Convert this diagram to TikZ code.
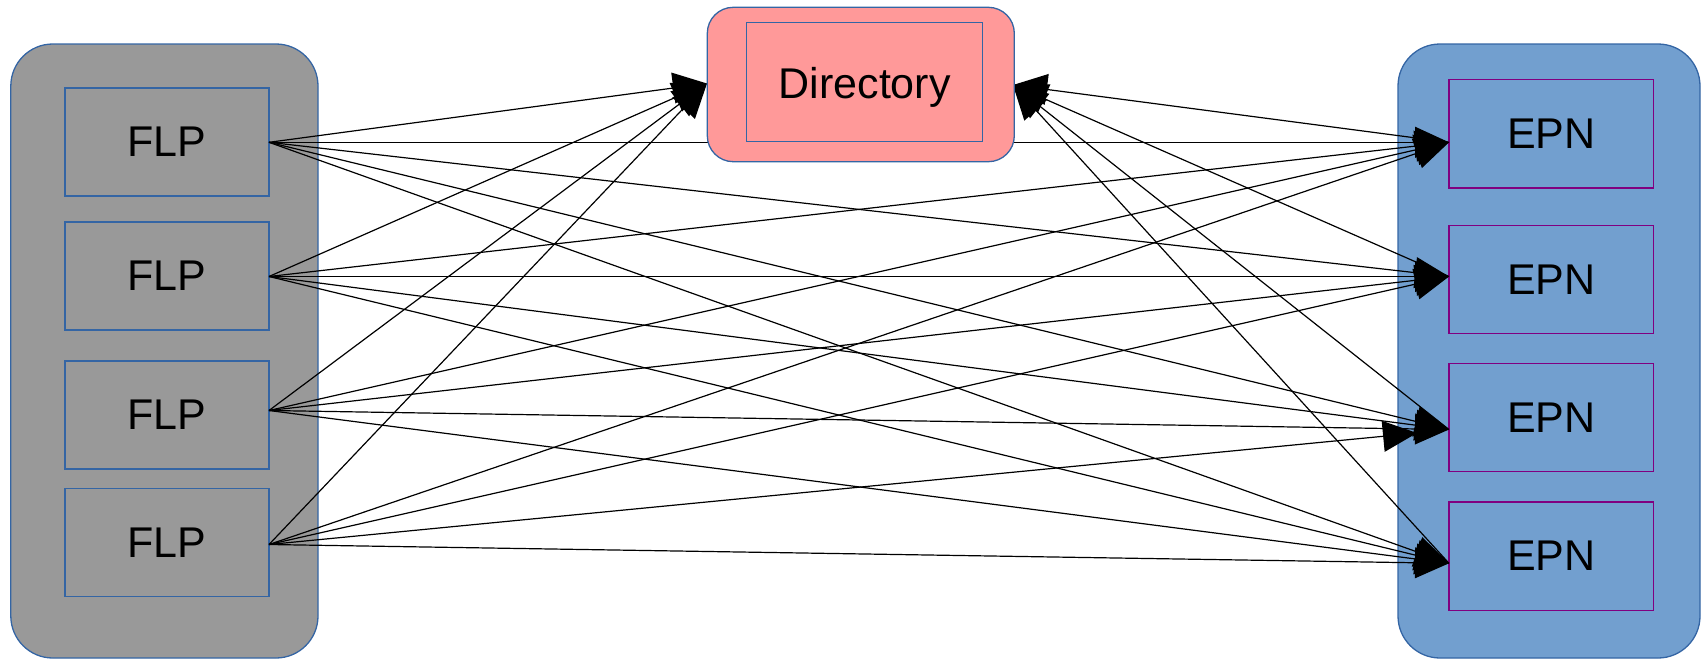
\documentclass[tikz,border=0pt]{standalone}
\usepackage{fontspec}
\setmainfont{Liberation Sans}
\usetikzlibrary{arrows.meta}
\definecolor{cgray}{HTML}{999999}
\definecolor{cpink}{HTML}{FF9999}
\definecolor{cblue}{HTML}{729FCF}
\definecolor{cborder}{HTML}{3465A4}
\definecolor{cpurple}{HTML}{800080}
\begin{document}
\begin{tikzpicture}[x=1pt,y=-1pt,
  container/.style={draw=cborder, line width=1.3pt, rounded corners=42pt, inner sep=0pt},
  flpbox/.style={draw=cborder, line width=1.3pt, minimum width=204pt, minimum height=108pt, inner sep=0pt, font=\fontsize{43}{50}\selectfont},
  epnbox/.style={draw=cpurple, line width=1.3pt, minimum width=204.7pt, minimum height=108.3pt, inner sep=0pt, font=\fontsize{43}{50}\selectfont},
  link/.style={draw=black, line width=1.2pt, -{Triangle[length=34pt,width=31pt]}}
]
\useasboundingbox (0,0) rectangle (1701,659);

% containers
\node[container, fill=cgray, minimum width=307.2pt, minimum height=614pt] (flpgroup) at (164.4,351) {};
\node[container, fill=cblue, minimum width=302pt, minimum height=614pt] (epngroup) at (1549,351) {};

% FLP boxes
\node[flpbox] (flp1) at (167,142.1) {FLP};
\node[flpbox] (flp2) at (167,275.9) {FLP};
\node[flpbox] (flp3) at (167,415) {FLP};
\node[flpbox] (flp4) at (167,542.5) {FLP};

% EPN boxes
\node[epnbox] (epn1) at (1551.3,133.9) {EPN};
\node[epnbox] (epn2) at (1551.3,279.5) {EPN};
\node[epnbox] (epn3) at (1551.3,417.6) {EPN};
\node[epnbox] (epn4) at (1551.3,556) {EPN};

% connection points
\coordinate (f1) at (269,142.3);
\coordinate (f2) at (269,276.5);
\coordinate (f3) at (269,410.5);
\coordinate (f4) at (269,544.5);
\coordinate (e1) at (1449,142.3);
\coordinate (e2) at (1449,276.5);
\coordinate (e3) at (1449,429.5);
\coordinate (e3s) at (1417,433);
\coordinate (e4) at (1449,563.3);
\coordinate (dl) at (707,83.5);
\coordinate (dr) at (1013,85);

% FLP -> Directory
\foreach \f in {f1,f2,f3,f4} \draw[link] (\f) -- (dl);
% FLP -> EPN
\foreach \f in {f1,f2,f3,f4} {
  \draw[link] (\f) -- (e1);
  \draw[link] (\f) -- (e2);
  \draw[link] (\f) -- (e4);
}
\draw[link] (f1) -- (e3);
\draw[link] (f2) -- (e3);
\draw[link] (f3) -- (e3);
\draw[link] (f4) -- (e3s);
% EPN -> Directory
\foreach \e in {e1,e2,e3,e4} \draw[link] (\e) -- (dr);

% Directory
\node[draw=cborder, line width=1.3pt, fill=cpink, rounded corners=26pt, minimum width=307pt, minimum height=154.4pt, inner sep=0pt] (dirouter) at (860.8,84.5) {};
\node[draw=cborder, line width=1.1pt, minimum width=236pt, minimum height=118.3pt, inner sep=0pt] (dirinner) at (864.7,81.9) {};
\node[anchor=base, inner sep=0pt, font=\fontsize{43}{50}\selectfont] (dirlabel) at (864.7,98.3) {Directory};
\end{tikzpicture}
\end{document}
